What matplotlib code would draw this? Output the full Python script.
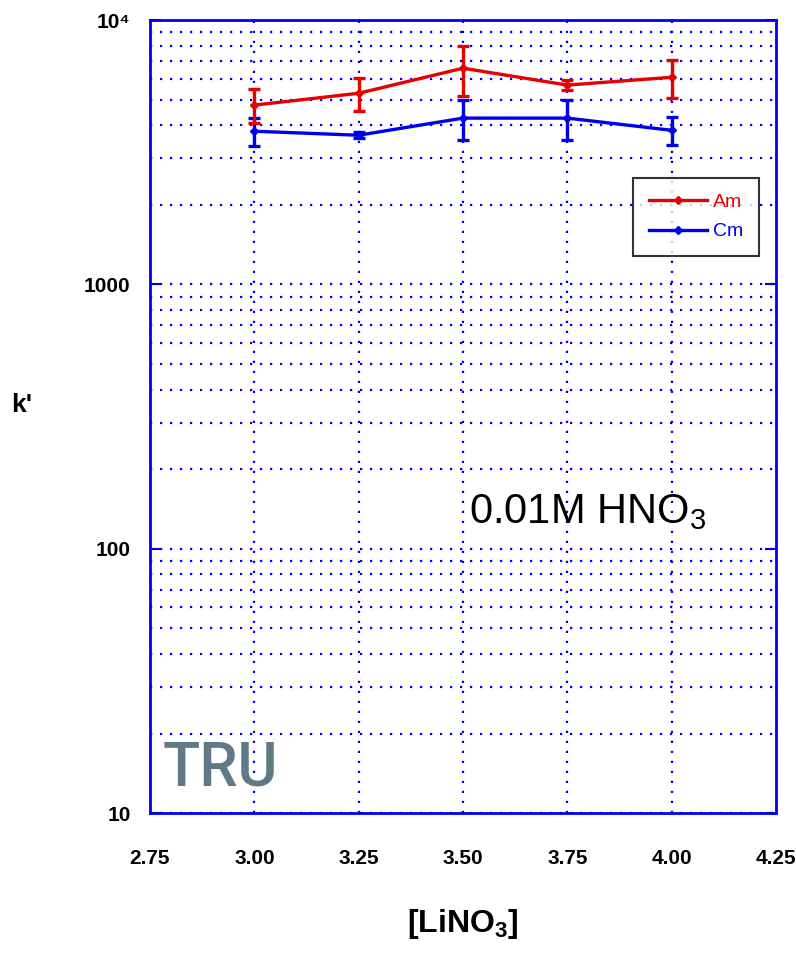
import matplotlib
matplotlib.use("Agg")
import matplotlib.pyplot as plt
from matplotlib.lines import Line2D
from matplotlib.ticker import FixedLocator, LogLocator, NullFormatter

# concentrations LiNO3 (M)
lino3 = [3.00, 3.25, 3.50, 3.75, 4.00]

# k' values and errors
am_k = [4770, 5290, 6580, 5680, 6080]
am_err = [700, 750, 1400, 250, 1000]
cm_k = [3800, 3670, 4260, 4260, 3830]
cm_err = [470, 100, 730, 730, 470]

x_ticks = [2.75, 3.00, 3.25, 3.50, 3.75, 4.00, 4.25]
x_labels = ["2.75", "3.00", "3.25", "3.50", "3.75", "4.00", "4.25"]
y_ticks = [10, 100, 1000, 10000]
y_labels = ["10", "100", "1000", "10\u2074"]

ROUGE = "#e60000"
BLEU = "#0000f0"
NARROW = ["Liberation Sans Narrow", "Liberation Sans", "DejaVu Sans"]

plt.rcParams["mathtext.fontset"] = "custom"
plt.rcParams["mathtext.rm"] = "Liberation Sans"
plt.rcParams["mathtext.bf"] = "Liberation Sans:bold"

fig = plt.figure(figsize=(7.96, 9.6), dpi=100)
ax = fig.add_axes([0.1884, 0.153, 0.7866, 0.826])

ax.set_yscale("log")
ax.set_xlim(2.75, 4.25)
ax.set_ylim(10, 10000)

ax.errorbar(lino3, am_k, yerr=am_err, color=ROUGE, lw=2.4, marker="D", ms=4,
            capsize=4.5, capthick=2.4, elinewidth=2.4, zorder=4)
ax.errorbar(lino3, cm_k, yerr=cm_err, color=BLEU, lw=2.4, marker="D", ms=4,
            capsize=4.5, capthick=2.4, elinewidth=2.4, zorder=3)

# ticks
ax.xaxis.set_major_locator(FixedLocator(x_ticks))
ax.set_xticklabels(x_labels)
ax.yaxis.set_major_locator(FixedLocator(y_ticks))
ax.set_yticklabels(y_labels)
ax.yaxis.set_minor_locator(LogLocator(base=10, subs=range(2, 10)))
ax.yaxis.set_minor_formatter(NullFormatter())
ax.tick_params(axis="y", which="major", direction="in", length=8, width=1.5,
               color=BLEU, left=True, right=True, pad=14)
ax.tick_params(axis="y", which="minor", length=0)
ax.tick_params(axis="x", which="major", length=0, pad=26)
for lab in ax.get_xticklabels() + ax.get_yticklabels():
    lab.set_family(NARROW)
    lab.set_fontweight("bold")
    lab.set_fontsize(15)

# grid dotted
ax.grid(True, which="both", axis="y", color=BLEU, linestyle=(0, (1, 3.5)), lw=1.6)
for xv in x_ticks[1:-1]:
    ax.axvline(xv, color=BLEU, linestyle=(0, (1, 3.5)), lw=1.6, zorder=1)

for sp in ax.spines.values():
    sp.set_color(BLEU)
    sp.set_linewidth(2)

ax.set_ylabel("k'", family=NARROW, fontweight="bold", fontsize=19, rotation=0)
ax.yaxis.set_label_coords(-0.205, 0.5)
ax.set_xlabel("[LiNO$_\\mathbf{3}$]", family=NARROW, fontweight="bold",
              fontsize=23, labelpad=28)

handles = [Line2D([], [], color=ROUGE, lw=2.4, marker="D", ms=4),
           Line2D([], [], color=BLEU, lw=2.4, marker="D", ms=4)]
leg = ax.legend(handles, ["Am", "Cm"], loc="upper left",
                bbox_to_anchor=(0.772, 0.801), frameon=True, fancybox=False,
                edgecolor="black", handlelength=3.0, handletextpad=0.3,
                borderpad=0.8, labelspacing=0.6, borderaxespad=0,
                prop={"family": NARROW, "size": 14})
leg.get_frame().set_linewidth(1.5)
for txt, col in zip(leg.get_texts(), [ROUGE, BLEU]):
    txt.set_color(col)

ax.text(0.51, 0.366, "0.01M HNO$_3$", transform=ax.transAxes, fontsize=30,
        family="Liberation Sans", color="black")
ax.text(0.02, 0.035, "TRU", transform=ax.transAxes, fontsize=44,
        family="Roboto", fontweight="medium", color="#5f7a85")

fig.savefig("out.png", dpi=100)
